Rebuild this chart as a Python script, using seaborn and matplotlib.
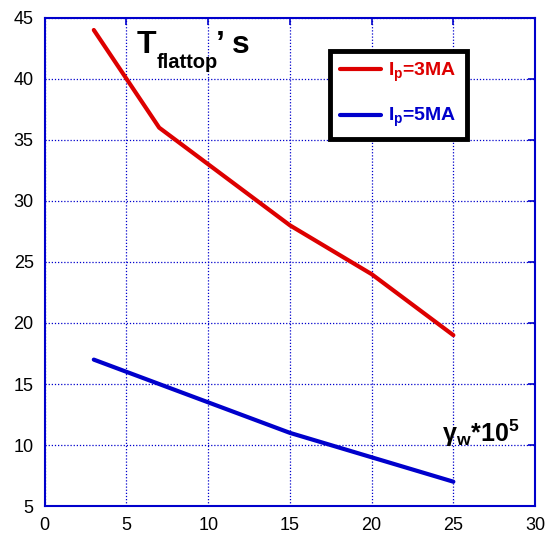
import matplotlib
matplotlib.use("Agg")
import matplotlib.pyplot as plt
import seaborn as sns
import pandas as pd
from matplotlib.lines import Line2D

gamma_w = [3, 7, 10, 15, 20, 25]
t_3ma = [44, 36, 33, 28, 24, 19]
t_5ma = [17, 15, 13.5, 11, 9, 7]
series_labels = ["3MA", "5MA"]

df = pd.concat([
    pd.DataFrame({"gamma": gamma_w, "T": t_3ma, "Ip": series_labels[0]}),
    pd.DataFrame({"gamma": gamma_w, "T": t_5ma, "Ip": series_labels[1]}),
])

sns.set_style("white")
plt.rcParams["font.family"] = ["Liberation Sans", "DejaVu Sans"]
plt.rcParams["text.color"] = "black"
plt.rcParams["mathtext.fontset"] = "custom"
plt.rcParams["mathtext.rm"] = "Liberation Sans:bold"
plt.rcParams["mathtext.bf"] = "Liberation Sans:bold"
plt.rcParams["mathtext.it"] = "Liberation Sans:bold"

colors = {"3MA": "#dd0000", "5MA": "#0000cc"}
edge = "#0000cc"

fig = plt.figure(figsize=(5.46, 5.39), dpi=100)
ax = fig.add_axes([0.082, 0.061, 0.898, 0.906])

sns.lineplot(data=df, x="gamma", y="T", hue="Ip", palette=colors,
             linewidth=3, legend=False, ax=ax)

ax.set_xlim(0, 30)
ax.set_ylim(5, 45)
ax.set_xticks(range(0, 31, 5))
ax.set_yticks(range(5, 46, 5))
ax.set_xlabel("")
ax.set_ylabel("")
ax.grid(True, color=edge, linestyle=(0, (1, 1.5)), linewidth=0.9)
for s in ax.spines.values():
    s.set_color(edge)
    s.set_linewidth(1.5)
ax.tick_params(direction="in", length=5, width=1.2, color=edge,
               top=True, right=True, labelsize=13, labelcolor="black", pad=8)

# title-like label: T_flattop, s
t_main = ax.text(5.63, 42.13, "T", fontsize=23, fontweight="bold", va="baseline")
t_sub = ax.annotate("flattop", xy=(1, 42.13), xycoords=(t_main, "data"),
                    xytext=(0.5, -11), textcoords="offset points",
                    fontsize=14.5, fontweight="bold", va="baseline")
ax.annotate("\u2019 s", xy=(1, 42.13), xycoords=(t_sub, "data"),
            xytext=(-1.5, 0), textcoords="offset points",
            fontsize=23, fontweight="bold", va="baseline")

# x-axis label inside plot
ax.text(24.3, 10.25, "\u03b3$_\\mathbf{w}$*10$^\\mathbf{5}$", fontsize=18,
        fontweight="bold", va="baseline", ha="left")

handles = [Line2D([], [], color=colors[k], linewidth=3) for k in series_labels]
labels = [r"$\mathbf{I}_{\mathbf{p}}$=" + k for k in series_labels]
leg = ax.legend(handles, labels, loc="upper left", bbox_to_anchor=(0.582, 0.932),
                borderaxespad=0, frameon=True, fancybox=False, shadow=False,
                framealpha=1, handlelength=2.1, handletextpad=0.4,
                labelspacing=1.15, borderpad=0.5,
                prop={"weight": "bold", "size": 14})
leg.get_frame().set_edgecolor("black")
leg.get_frame().set_linewidth(3.5)
for t, k in zip(leg.get_texts(), series_labels):
    t.set_color(colors[k])

fig.savefig("out.png", dpi=100)
